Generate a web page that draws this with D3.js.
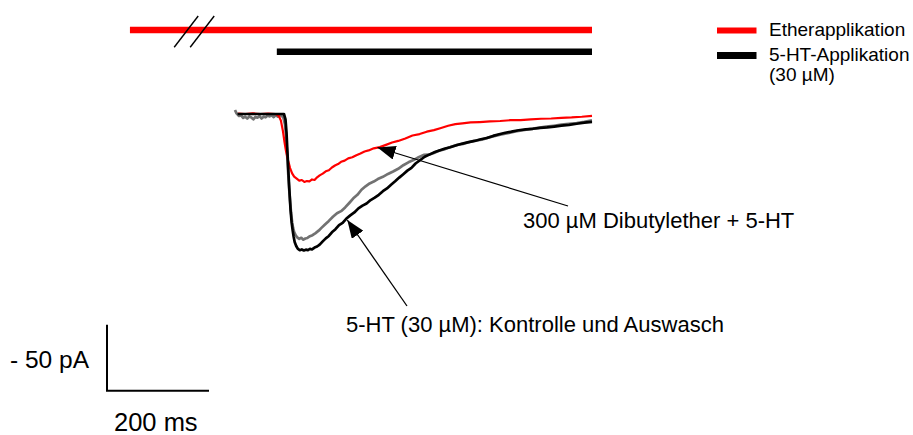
<!DOCTYPE html>
<html>
<head>
<meta charset="utf-8">
<script src="https://cdn.jsdelivr.net/npm/d3@7"></script>
<style>
  html, body { margin: 0; padding: 0; background: #fff; }
  svg { display: block; font-family: "Liberation Sans", Arial, sans-serif; }
</style>
</head>
<body>
<svg id="chart" width="913" height="435"></svg>
<script>
// Whole-cell currents: time in ms, current in pA (inward = negative)
const etherTrace = [
  [6,0.3],[20,0],[35,0.4],[50,0],[65,0.3],[80,0],[86,-1.5],[90,-5],[94,-13],[97,-21],
  [100,-28],[104,-35],[108,-41],[112,-45],[116,-47.5],[121,-49],[126,-50.5],[131,-50],
  [136,-51.5],[141,-50.8],[146,-51],[151,-49.6],[156,-50],[161,-48],[166,-46.5],[172,-45.2],
  [178,-43.4],[184,-42.6],[190,-40.5],[196,-39],[202,-37.9],[208,-36.2],[215,-35.3],
  [222,-33.6],[230,-32.8],[238,-31.2],[246,-29.9],[254,-28.4],[262,-27.6],[272,-26],
  [284,-25.1],[296,-23.4],[308,-21.6],[320,-20.4],[334,-18.5],[348,-16.3],[362,-15.2],
  [376,-13.4],[390,-12.2],[404,-10.6],[418,-8.9],[432,-7.7],[446,-7.1],[462,-6.4],
  [480,-6.1],[500,-5.6],[520,-5.3],[540,-4.7],[560,-4.6],[580,-4.1],[600,-3.6],
  [620,-3.4],[640,-2.9],[660,-2.6],[680,-2.1],[700,-1.4]
];

const controlTrace = [
  [5,0],[20,0],[40,0],[60,0],[80,0],[96,0],[99,-4],[101,-14],[103,-30],[105,-46],
  [107,-60],[109,-73],[111,-82],[113,-88],[115,-93],[117,-97],[120,-100],[123,-102],
  [127,-103.2],[131,-102.6],[135,-103.4],[139,-102.8],[143,-103.1],[147,-102.2],
  [151,-102.6],[156,-101.2],[161,-100.4],[166,-99],[172,-96.5],[178,-94.2],[184,-92.4],
  [190,-89.6],[197,-87.3],[204,-84.2],[211,-82.5],[218,-79.4],[226,-76.8],[234,-74.6],
  [242,-71.5],[250,-69.4],[258,-67.8],[266,-65.2],[274,-63.4],[282,-61.2],[290,-58.5],
  [298,-56.4],[306,-53.6],[314,-51],[322,-48.2],[330,-45.6],[338,-42.9],[346,-40.8],
  [354,-37.5],[362,-35.2],[372,-32.4],[382,-30.6],[392,-28.8],[402,-27.4],[412,-26.1],
  [422,-25.2],[434,-23.7],[446,-22.4],[458,-21.3],[470,-20.4],[482,-19.1],[494,-18.2],
  [506,-16.6],[518,-15.3],[530,-14.2],[542,-13.4],[556,-12.3],[570,-11.6],[584,-11.2],
  [598,-10.5],[612,-10.1],[626,-9.5],[640,-8.8],[655,-8.2],[670,-7.4],[685,-6.6],[700,-5.9]
];

const washoutTrace = [
  [0,3],[3,0.5],[8,-1.5],[12,-1],[16,-3],[20,-2],[24,-3.5],[28,-1.8],[32,-2.6],[36,-4],
  [40,-2.2],[44,-2.8],[48,-1.5],[52,-3.4],[56,-2],[60,-2.5],[64,-1.2],[68,-1.8],[72,-1],
  [76,-2.4],[80,-0.8],[84,-2],[88,-0.6],[92,-1.5],[95,-3],[98,-8],[100,-16],[102,-29],
  [104,-43],[106,-56],[108,-66],[110,-75],[112,-82],[114,-86.5],[116,-89.5],[119,-92],
  [122,-93.5],[126,-94.6],[130,-93.8],[134,-95.2],[138,-94.3],[142,-93.9],[147,-92.6],
  [152,-91.8],[158,-90.2],[164,-88.4],[170,-86.1],[177,-83.5],[184,-81],[192,-77.9],
  [200,-75.2],[208,-73.6],[216,-70.8],[224,-67.4],[232,-63.9],[240,-61.2],[248,-57.4],
  [256,-54.8],[264,-52.6],[272,-51.2],[280,-49.3],[290,-47.6],[300,-45.4],[310,-43.6],
  [320,-41.5],[330,-38.8],[340,-36.6],[350,-34.9],[360,-32.8],[370,-31],[380,-30.8],
  [390,-29.5],[400,-27.8],[412,-26.6],[424,-24.8],[436,-23.4],[448,-22.6],[460,-21.2],
  [472,-20.1],[484,-19.4],[496,-17.9],[508,-16.8],[520,-15.6],[535,-14.5],[550,-13.2],
  [565,-12.3],[580,-11.3],[595,-10.5],[610,-9.6],[625,-8.9],[640,-8.1],[655,-7.5],
  [670,-6.8],[685,-5.9],[700,-4.8]
];

// Application periods (ms); the ether bar is shown with a time-axis break
const etherApplication = [-206, 700];
const serotoninApplication = [82, 700];
const etherBreakAt = -80;

// Scale bar sizes
const scaleBarTime = 200;   // ms
const scaleBarCurrent = -50; // pA

const legendItems = [
  { label: ["Etherapplikation"], color: "#ff0000", width: 6 },
  { label: ["5-HT-Applikation", "(30 µM)"], color: "#000000", width: 7 }
];

const svg = d3.select("#chart");

const x = d3.scaleLinear().domain([0, 200]).range([235, 337]);
const y = d3.scaleLinear().domain([0, -50]).range([114, 180]);

const line = d3.line().x(d => x(d[0])).y(d => y(d[1])).curve(d3.curveLinear);

// Application bars
svg.append("line")
  .attr("x1", x(etherApplication[0])).attr("x2", x(etherApplication[1]))
  .attr("y1", 30).attr("y2", 30)
  .attr("stroke", "#ff0000").attr("stroke-width", 6.5);

svg.append("line")
  .attr("x1", x(serotoninApplication[0])).attr("x2", x(serotoninApplication[1]))
  .attr("y1", 51.7).attr("y2", 51.7)
  .attr("stroke", "#000").attr("stroke-width", 6.5);

// Break marks on the ether bar
[-8, 8].forEach(dx => {
  const cx = x(etherBreakAt) + dx;
  svg.append("line")
    .attr("x1", cx - 12).attr("y1", 47.3)
    .attr("x2", cx + 12).attr("y2", 16)
    .attr("stroke", "#000").attr("stroke-width", 1.4);
});

// Current traces
svg.append("path").datum(washoutTrace)
  .attr("d", line).attr("fill", "none")
  .attr("stroke", "#727272").attr("stroke-width", 2.7).attr("stroke-linejoin", "round");

svg.append("path").datum(etherTrace)
  .attr("d", line).attr("fill", "none")
  .attr("stroke", "#ff0000").attr("stroke-width", 2.2).attr("stroke-linejoin", "round");

svg.append("path").datum(controlTrace)
  .attr("d", line).attr("fill", "none")
  .attr("stroke", "#000").attr("stroke-width", 2.7).attr("stroke-linejoin", "round");

// Annotation arrows
const defs = svg.append("defs");
defs.append("marker")
  .attr("id", "head")
  .attr("viewBox", "0 0 18 14")
  .attr("refX", 18).attr("refY", 7)
  .attr("markerWidth", 18).attr("markerHeight", 14)
  .attr("markerUnits", "userSpaceOnUse")
  .attr("orient", "auto")
  .append("path").attr("d", "M0,0 L18,7 L0,14 Z").attr("fill", "#000");

const arrows = [
  { from: [568, 206], to: [377.5, 147.5] },
  { from: [407, 306], to: [347.3, 220] }
];
arrows.forEach(a => {
  svg.append("line")
    .attr("x1", a.from[0]).attr("y1", a.from[1])
    .attr("x2", a.to[0]).attr("y2", a.to[1])
    .attr("stroke", "#000").attr("stroke-width", 1.3)
    .attr("marker-end", "url(#head)");
});

svg.append("text").attr("x", 523).attr("y", 227.5)
  .attr("font-size", 22).attr("fill", "#000")
  .text("300 µM Dibutylether + 5-HT");

svg.append("text").attr("x", 346).attr("y", 331.5)
  .attr("font-size", 22).attr("fill", "#000")
  .text("5-HT (30 µM): Kontrolle und Auswasch");

// Scale bar
const sbX = 107, sbY = 390.7;
const sbW = x(scaleBarTime) - x(0);
const sbH = y(scaleBarCurrent) - y(0);
svg.append("path")
  .attr("d", `M${sbX},${sbY - sbH} L${sbX},${sbY} L${sbX + sbW},${sbY}`)
  .attr("fill", "none").attr("stroke", "#000").attr("stroke-width", 2);

svg.append("text").attr("x", 10).attr("y", 367.5)
  .attr("font-size", 24.5).attr("fill", "#000")
  .text(`- ${Math.abs(scaleBarCurrent)} pA`);

svg.append("text").attr("x", 114).attr("y", 430.5)
  .attr("font-size", 25.5).attr("fill", "#000")
  .text(`${scaleBarTime} ms`);

// Legend
const legend = svg.append("g");
legendItems.forEach((item, i) => {
  const ly = i === 0 ? 30.5 : 55.5;
  legend.append("line")
    .attr("x1", 717).attr("x2", 756.5)
    .attr("y1", ly).attr("y2", ly)
    .attr("stroke", item.color).attr("stroke-width", item.width);
  item.label.forEach((t, j) => {
    legend.append("text")
      .attr("x", 769).attr("y", ly + 5.5 + j * 20)
      .attr("font-size", 19).attr("fill", "#000")
      .text(t);
  });
});
</script>
</body>
</html>
